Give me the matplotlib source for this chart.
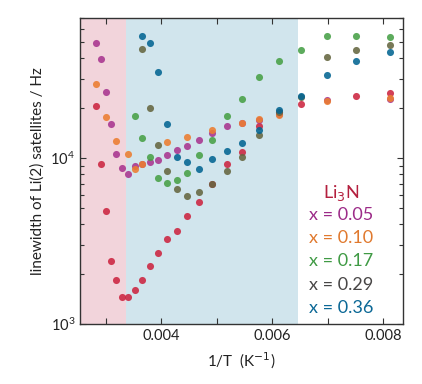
import matplotlib
matplotlib.use("Agg")
import matplotlib.pyplot as plt
from matplotlib.ticker import LogLocator, NullFormatter, MultipleLocator, FixedFormatter, FixedLocator

plt.rcParams["font.family"] = ["Lato", "DejaVu Sans"]

# 1/T values (K^-1) of each measured temperature
inv_T = [0.002829, 0.002913, 0.003004, 0.003094, 0.003196, 0.003297,
         0.003413, 0.003532, 0.003658, 0.003796, 0.003946, 0.004108,
         0.004288, 0.004476, 0.004692, 0.004923, 0.005184, 0.005459,
         0.005773, 0.006130, 0.006514, 0.006991, 0.007514, 0.008126]

li3n_x = [0.002829, 0.002913, 0.003004, 0.003094, 0.003196, 0.003297,
          0.003413, 0.003532, 0.003658, 0.003796, 0.003946, 0.004108,
          0.004288, 0.004476, 0.004692, 0.004923, 0.005184, 0.005459,
          0.005773, 0.006130, 0.006514, 0.007514, 0.008126]
li3n_y = [20560, 9240, 4775, 2396, 1833, 1460, 1460, 1609, 1833, 2244, 2677,
          3237, 3648, 4492, 5454, 6999, 9240, 10914, 15650, 18930, 21230,
          23530, 24540]

x05_x = [0.002829, 0.002913, 0.003004, 0.003094, 0.003196, 0.003297,
         0.003413, 0.003532, 0.003658, 0.003796, 0.003946, 0.004108,
         0.004288, 0.004476, 0.004692, 0.004923, 0.005184, 0.005459,
         0.005773, 0.006130, 0.006991, 0.008126]
x05_y = [49770, 39640, 25080, 15960, 10615, 8740, 7977, 8913, 9201, 9421,
         9767, 10425, 11220, 11860, 12840, 14210, 15520, 16360, 16940, 18500,
         22450, 22670]

x10_x = [0.002829, 0.003004, 0.003196, 0.003413, 0.003532, 0.003658,
         0.004108, 0.004476, 0.004923, 0.005459, 0.005773, 0.006130,
         0.006991, 0.008126]
x10_y = [28030, 17660, 12710, 10615, 8586, 9266, 12430, 13330, 14710, 16180,
         17180, 18150, 22050, 23080]

x17_x = [0.003532, 0.003658, 0.003796, 0.003946, 0.004108, 0.004288,
         0.004476, 0.004692, 0.004923, 0.005184, 0.005459, 0.005773,
         0.006130, 0.006514, 0.006991, 0.007514, 0.008126]
x17_y = [17980, 13290, 10210, 7628, 7051, 7341, 8155, 10425, 12925, 17980,
         22760, 30890, 38400, 45160, 54540, 54330, 53800]

x29_x = [0.003658, 0.003796, 0.003946, 0.004108, 0.004288, 0.004476,
         0.004692, 0.004923, 0.005184, 0.005459, 0.005773, 0.006130,
         0.006514, 0.006991, 0.007514, 0.008126]
x29_y = [45780, 20010, 12030, 8385, 6477, 5929, 6266, 7022, 8351, 10210,
         13760, 18900, 23210, 41000, 44910, 47940]

x36_x = [0.003658, 0.003796, 0.003946, 0.004108, 0.004288, 0.004476,
         0.004692, 0.004923, 0.005184, 0.005459, 0.005773, 0.006130,
         0.006514, 0.006991, 0.007514, 0.008126]
x36_y = [54330, 49770, 33110, 16030, 10110, 9434, 8560, 9862, 11020, 12350,
         14810, 19600, 23630, 31750, 38780, 43690]

labels = ["Li$_3$N", "x = 0.05", "x = 0.10", "x = 0.17", "x = 0.29", "x = 0.36"]
point_colors = ["#cc2540", "#a8358f", "#ec7d30", "#47a046", "#656640", "#036592"]
text_colors = ["#b4203f", "#9c2b88", "#e0792e", "#3f9a44", "#484646", "#0b6896"]

pink_span = (0.00254, 0.00337)
blue_span = (0.00337, 0.00647)

fig = plt.figure(figsize=(4.22, 3.84), dpi=100)
ax = fig.add_axes([0.1896, 0.1563, 0.7654, 0.7969])

ax.axvspan(*pink_span, color="#f2d4db", lw=0, zorder=0)
ax.axvspan(*blue_span, color="#d1e5ed", lw=0, zorder=0)

series = [(li3n_x, li3n_y), (x05_x, x05_y), (x10_x, x10_y),
          (x17_x, x17_y), (x29_x, x29_y), (x36_x, x36_y)]
for (xs, ys), c in zip(series, point_colors):
    ax.scatter(xs, ys, s=26, color=c, alpha=0.88, lw=0, zorder=3)

ax.set_yscale("log")
ax.set_xlim(0.00254, 0.00836)
ax.set_ylim(1000, 70000)

ax.xaxis.set_major_locator(FixedLocator([0.004, 0.006, 0.008]))
ax.xaxis.set_major_formatter(FixedFormatter(["0.004", "0.006", "0.008"]))
ax.xaxis.set_minor_locator(MultipleLocator(0.001))
ax.yaxis.set_minor_locator(LogLocator(base=10, subs=range(2, 10)))
ax.yaxis.set_minor_formatter(NullFormatter())

ax.tick_params(which="both", direction="in", top=True, right=True,
               colors="#333333", labelcolor="#222222", labelsize=10.5)
ax.tick_params(which="major", length=4, width=0.8)
ax.tick_params(which="minor", length=3, width=0.8)
ax.tick_params(axis="x", which="minor", length=4)
for sp in ax.spines.values():
    sp.set_color("#333333")
    sp.set_linewidth(1.0)

ax.set_xlabel("1/T  (K$^{-1}$)", fontsize=11, color="#222222", labelpad=6)
ax.set_ylabel("linewidth of Li(2) satellites / Hz", fontsize=11,
              color="#222222", labelpad=4)

legend_y = [0.427, 0.355, 0.282, 0.205, 0.127, 0.052]
for lab, c, yy in zip(labels, text_colors, legend_y):
    ax.text(0.808, yy, lab, transform=ax.transAxes, color=c, fontsize=13,
            ha="center", va="center")

fig.savefig("out.png", dpi=100)
